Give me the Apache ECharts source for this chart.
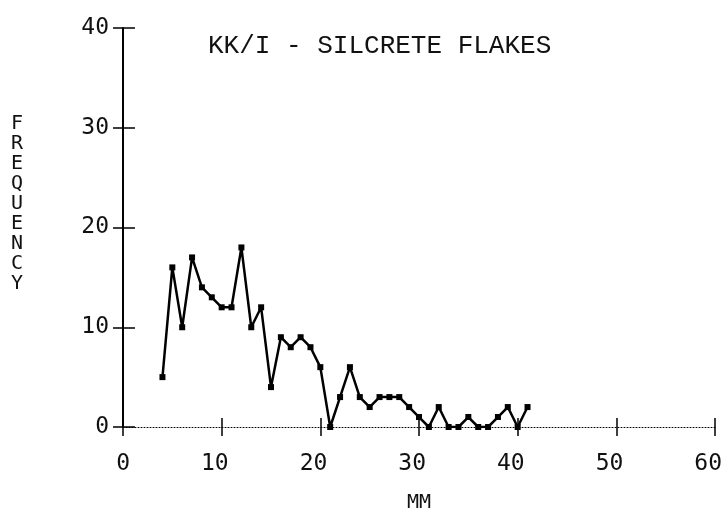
<!DOCTYPE html>
<html><head><meta charset="utf-8">
<script src="https://cdn.jsdelivr.net/npm/echarts@6/dist/echarts.min.js"></script>
<style>html,body{margin:0;padding:0;background:#fff}#c{width:725px;height:519px}</style>
</head><body><div id="c"></div>
<script>
const chartTitle = 'KK/I - SILCRETE FLAKES';
const xName = 'MM';
const yName = 'FREQUENCY';
const sizeMM = [4,5,6,7,8,9,10,11,12,13,14,15,16,17,18,19,20,21,22,23,24,25,26,27,28,29,30,31,32,33,34,35,36,37,38,39,40,41];
const frequency = [5,16,10,17,14,13,12,12,18,10,12,4,9,8,9,8,6,0,3,6,3,2,3,3,3,2,1,0,2,0,0,1,0,0,1,2,0,2];

const points = sizeMM.map((x, i) => [x, frequency[i]]);
const mono = 'DejaVu Sans Mono';
const ink = '#111';

const chart = echarts.init(document.getElementById('c'), null, {renderer: 'canvas'});
chart.setOption({
  animation: false,
  backgroundColor: '#fff',
  title: {
    text: chartTitle, left: 203, top: 28,
    textStyle: {fontFamily: 'Liberation Mono', fontSize: 26, fontWeight: 'normal', color: ink}
  },
  grid: {left: 123, right: 7, top: 28, bottom: 92},
  xAxis: [
    {
      type: 'value', min: 0, max: 60, interval: 10, position: 'bottom',
      axisLine: {show: true, onZero: false, lineStyle: {color: '#000', width: 1, type: [1, 2]}},
      axisTick: {show: true, inside: false, length: 9, lineStyle: {color: '#000', width: 1.5}},
      axisLabel: {margin: 26, fontFamily: mono, fontSize: 23, color: ink, align: 'right', padding: [0, -7, 0, 0]},
      splitLine: {show: false},
      name: xName, nameLocation: 'middle', nameGap: 66,
      nameTextStyle: {fontFamily: mono, fontSize: 20, color: ink}
    },
    {
      type: 'value', min: 0, max: 60, interval: 10, position: 'bottom',
      axisLine: {show: false},
      axisTick: {show: true, inside: true, length: 9, lineStyle: {color: '#000', width: 1.5}},
      axisLabel: {show: false}, splitLine: {show: false}
    }
  ],
  yAxis: [
    {
      type: 'value', min: 0, max: 40, interval: 10, position: 'left',
      axisLine: {show: true, onZero: false, lineStyle: {color: '#000', width: 2}},
      axisTick: {show: true, inside: false, length: 10, lineStyle: {color: '#000', width: 1.5}},
      axisLabel: {margin: 14, fontFamily: mono, fontSize: 23, color: ink},
      splitLine: {show: false}
    },
    {
      type: 'value', min: 0, max: 40, interval: 10, position: 'left',
      axisLine: {show: false},
      axisTick: {show: true, inside: true, length: 12, lineStyle: {color: '#000', width: 1.5}},
      axisLabel: {show: false}, splitLine: {show: false}
    }
  ],
  graphic: [{
    type: 'text', left: 11, top: 114,
    style: {text: yName.split('').join('\n'), fontFamily: mono, fontSize: 20, lineHeight: 20, fill: ink, align: 'center'}
  }],
  series: [{
    type: 'line', xAxisIndex: 0, yAxisIndex: 0, data: points,
    symbol: 'rect', symbolSize: 6, showSymbol: true,
    itemStyle: {color: '#000'},
    lineStyle: {color: '#000', width: 2.5}
  }]
});
</script></body></html>
